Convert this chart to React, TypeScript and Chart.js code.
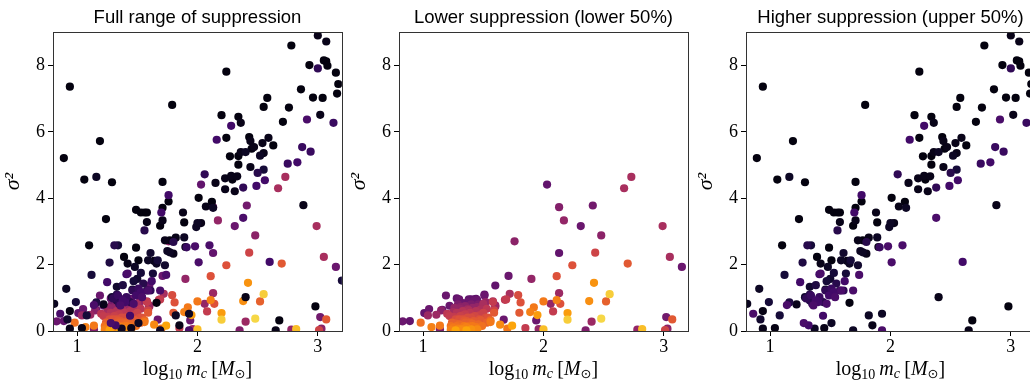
import React, { useEffect, useRef } from 'react';
import { Chart, registerables } from 'chart.js';

Chart.register(...registerables);

// Panel titles
const panelTitles = [
  'Full range of suppression',
  'Lower suppression (lower 50%)',
  'Higher suppression (upper 50%)',
];

// Axis ticks
const xTicks = [1, 2, 3];
const yTicks = [0, 2, 4, 6, 8];
const xRange = [0.8, 3.2];
const yRange = [0, 9];
const yAxisLabel = 'σ²';

// x-axis label pieces: log10 m_c [M_sun]
const xAxisLabelParts = [
  { t: 'log', style: 'normal', size: 20, dy: 0, fam: 'Liberation Serif' },
  { t: '10', style: 'normal', size: 14, dy: 4, fam: 'Liberation Serif' },
  { t: ' ', style: 'normal', size: 16, dy: 0, fam: 'Liberation Serif' },
  { t: 'm', style: 'italic', size: 20, dy: 0, fam: 'Liberation Serif' },
  { t: 'c', style: 'italic', size: 14, dy: 3, fam: 'Liberation Serif' },
  { t: ' ', style: 'normal', size: 17, dy: 0, fam: 'Liberation Serif' },
  { t: '[', style: 'normal', size: 20, dy: 0, fam: 'Liberation Serif' },
  { t: 'M', style: 'italic', size: 20, dy: 0, fam: 'Liberation Serif' },
  { t: '⊙', style: 'normal', size: 13, dy: 3, fam: 'DejaVu Sans' },
  { t: ']', style: 'normal', size: 20, dy: 0, fam: 'Liberation Serif' },
];

// Higher suppression set: [log10 m_c, sigma^2, colour value]
const upperSet: number[][] = [
  [0.81, 0.82, 0.05], [0.86, 0.52, 0.22], [0.91, 1.27, 0.06], [0.92, 0.35, 0.08],
  [0.94, 0.07, 0.04], [0.94, 0.60, 0.03], [0.99, 0.87, 0.10], [0.89, 5.21, 0.02],
  [0.94, 7.36, 0.02], [1.04, 0.09, 0.03], [1.06, 4.56, 0.02], [1.08, 0.47, 0.10],
  [1.10, 2.58, 0.02], [1.12, 1.69, 0.10], [1.14, 0.78, 0.22], [1.16, 0.86, 0.12],
  [1.16, 4.64, 0.06], [1.19, 5.72, 0.02], [1.22, 0.80, 0.04], [1.24, 3.37, 0.02],
  [1.25, 1.47, 0.20], [1.27, 2.06, 0.12], [1.29, 4.48, 0.02], [1.28, 0.24, 0.22],
  [1.29, 1.02, 0.08], [1.31, 2.58, 0.14], [1.34, 2.58, 0.10], [1.32, 0.17, 0.20],
  [1.33, 1.33, 0.08], [1.33, 0.92, 0.12], [1.36, 0.77, 0.22], [1.37, 0.07, 0.06],
  [1.39, 2.23, 0.02], [1.40, 0.87, 0.20], [1.41, 1.71, 0.20], [1.42, 2.03, 0.04],
  [1.44, 0.46, 0.20], [1.45, 0.09, 0.04], [1.46, 1.25, 0.08], [1.47, 0.82, 0.22],
  [1.48, 1.93, 0.06], [1.49, 3.65, 0.02], [1.49, 2.51, 0.02], [1.50, 1.57, 0.08],
  [1.51, 0.24, 0.06], [1.51, 2.13, 0.02], [1.53, 1.75, 0.10], [1.53, 3.57, 0.02],
  [1.54, 1.02, 0.22], [1.56, 3.57, 0.02], [1.56, 3.03, 0.14], [1.58, 3.57, 0.02],
  [1.58, 3.28, 0.04], [1.59, 2.13, 0.06], [1.59, 1.22, 0.22], [1.61, 2.35, 0.08],
  [1.62, 1.50, 0.20], [1.63, 1.73, 0.10], [1.64, 2.11, 0.04], [1.66, 2.03, 0.06],
  [1.66, 0.85, 0.02], [1.67, 2.13, 0.10], [1.69, 0.02, 0.06], [1.69, 3.17, 0.02],
  [1.69, 1.22, 0.22], [1.70, 3.57, 0.20], [1.71, 3.33, 0.04], [1.71, 4.49, 0.02],
  [1.71, 3.71, 0.02], [1.73, 2.73, 0.04], [1.73, 1.98, 0.08], [1.74, 1.69, 0.22],
  [1.75, 2.41, 0.06], [1.76, 3.90, 0.02], [1.76, 4.09, 0.20], [1.77, 2.73, 0.02],
  [1.77, 2.37, 0.06], [1.79, 6.81, 0.02], [1.80, 2.33, 0.04], [1.80, 2.68, 0.14],
  [1.82, 0.47, 0.06], [1.82, 2.81, 0.04], [1.85, 0.17, 0.04], [1.88, 3.57, 0.04],
  [1.89, 2.82, 0.06], [1.89, 3.27, 0.02], [1.90, 2.53, 0.04], [1.91, 2.52, 0.18],
  [1.93, 0.52, 0.06], [1.93, 0.02, 0.22], [1.98, 2.55, 0.22], [1.99, 3.13, 0.06],
  [2.01, 2.07, 0.22], [2.01, 4.01, 0.02], [2.00, 3.25, 0.06], [2.03, 3.25, 0.04],
  [2.06, 4.72, 0.16], [2.07, 3.75, 0.04], [2.10, 2.58, 0.22], [2.12, 3.89, 0.02],
  [2.13, 3.71, 0.06], [2.15, 4.46, 0.04], [2.16, 5.76, 0.20], [2.20, 6.50, 0.02],
  [2.23, 4.60, 0.04], [2.23, 4.27, 0.04], [2.24, 7.81, 0.02], [2.24, 5.82, 0.02],
  [2.27, 5.26, 0.02], [2.28, 6.18, 0.20], [2.28, 4.67, 0.04], [2.29, 4.56, 0.02],
  [2.31, 4.21, 0.04], [2.33, 4.66, 0.04], [2.34, 5.01, 0.02], [2.34, 5.27, 0.02],
  [2.34, 6.45, 0.02], [2.36, 6.27, 0.04], [2.36, 5.39, 0.04], [2.38, 4.32, 0.16],
  [2.38, 3.41, 0.22], [2.40, 1.02, 0.04], [2.40, 5.39, 0.06], [2.43, 5.84, 0.02],
  [2.44, 4.94, 0.04], [2.44, 5.72, 0.04], [2.45, 5.49, 0.02], [2.47, 5.54, 0.04],
  [2.49, 4.37, 0.20], [2.50, 4.76, 0.14], [2.52, 5.28, 0.06], [2.54, 5.66, 0.04],
  [2.55, 4.86, 0.10], [2.55, 6.75, 0.02], [2.56, 4.54, 0.20], [2.55, 5.36, 0.04],
  [2.58, 7.02, 0.02], [2.59, 5.82, 0.04], [2.60, 2.08, 0.20], [2.63, 5.59, 0.02],
  [2.65, 0.02, 0.04], [2.68, 0.32, 0.02], [2.71, 6.30, 0.02], [2.75, 5.04, 0.18],
  [2.76, 6.73, 0.02], [2.78, 8.60, 0.02], [2.83, 5.08, 0.20], [2.86, 7.28, 0.02],
  [2.87, 5.54, 0.18], [2.88, 3.79, 0.04], [2.91, 6.37, 0.22], [2.93, 8.01, 0.02],
  [2.94, 5.40, 0.18], [2.96, 7.03, 0.02], [2.98, 0.74, 0.02], [3.00, 8.90, 0.04],
  [3.00, 7.91, 0.16], [3.02, 6.51, 0.04], [3.04, 7.02, 0.02], [3.05, 8.15, 0.02],
  [3.07, 8.12, 0.02], [3.07, 8.72, 0.04], [3.08, 7.99, 0.02], [3.13, 6.27, 0.18],
  [3.15, 7.78, 0.02], [3.17, 7.44, 0.02], [3.16, 7.15, 0.02], [3.20, 1.52, 0.10],
  [1.30, 0.98, 0.16], [1.34, 1.07, 0.18], [1.38, 0.92, 0.20], [1.35, 0.82, 0.16],
  [1.41, 1.02, 0.18], [1.44, 0.87, 0.14], [1.46, 1.22, 0.16], [1.51, 1.28, 0.18],
  [1.53, 1.17, 0.20], [1.58, 1.22, 0.12], [1.61, 1.22, 0.16], [1.49, 1.07, 0.20],
  [1.55, 1.43, 0.14], [1.47, 1.50, 0.10], [1.38, 1.38, 0.12], [1.42, 1.73, 0.22],
  [1.33, 1.10, 0.14],
];

// Lower suppression set: [log10 m_c, sigma^2, colour value]
const lowerSet: number[][] = [
  [0.83, 0.29, 0.30], [0.89, 0.30, 0.28], [0.98, 0.25, 0.68], [1.01, 0.54, 0.28],
  [1.05, 0.66, 0.30], [1.04, 0.47, 0.42], [1.07, 0.12, 0.72], [1.11, 0.49, 0.42],
  [1.14, 0.16, 0.70], [1.15, 0.62, 0.38], [1.16, 0.64, 0.30], [1.14, 0.05, 0.35],
  [1.19, 1.07, 0.30], [1.22, 0.76, 0.30], [1.20, 0.52, 0.50], [1.23, 0.04, 0.72],
  [1.28, 0.98, 0.28], [1.30, 0.95, 0.30], [1.40, 0.95, 0.28], [1.44, 0.97, 0.27],
  [1.50, 0.82, 0.45], [1.51, 1.10, 0.28], [1.58, 0.87, 0.52], [1.60, 0.74, 0.42],
  [1.60, 1.37, 0.28], [1.59, 0.55, 0.62], [1.56, 0.27, 0.70], [1.64, 0.19, 0.74],
  [1.68, 0.94, 0.50], [1.67, 0.34, 0.30], [1.70, 0.07, 0.70], [1.71, 1.66, 0.30],
  [1.72, 1.12, 0.45], [1.74, 0.16, 0.80], [1.76, 2.70, 0.38], [1.79, 1.08, 0.58],
  [1.81, 0.86, 0.60], [1.80, 0.55, 0.62], [1.85, 0.09, 0.52], [1.89, 0.57, 0.72],
  [1.90, 1.57, 0.40], [1.92, 0.71, 0.70], [1.94, 0.32, 0.30], [1.95, 0.48, 0.78],
  [1.96, 0.06, 0.40], [2.00, 0.89, 0.70], [2.00, 0.05, 0.85], [2.03, 4.41, 0.28],
  [2.06, 0.82, 0.40], [2.08, 0.59, 0.52], [2.11, 1.65, 0.60], [2.11, 0.93, 0.72],
  [2.13, 3.73, 0.36], [2.13, 2.35, 0.28], [2.13, 1.14, 0.42], [2.14, 0.82, 0.60],
  [2.17, 3.33, 0.40], [2.20, 0.54, 0.78], [2.20, 0.34, 0.88], [2.24, 1.98, 0.60],
  [2.31, 3.16, 0.30], [2.35, 0.02, 0.35], [2.38, 0.90, 0.75], [2.40, 0.28, 0.42],
  [2.41, 3.78, 0.32], [2.42, 1.45, 0.76], [2.43, 2.36, 0.55], [2.48, 0.37, 0.90],
  [2.48, 2.88, 0.38], [2.52, 0.89, 0.64], [2.55, 1.11, 0.88], [2.67, 4.30, 0.45],
  [2.70, 2.03, 0.62], [2.73, 4.64, 0.45], [2.78, 0.04, 0.40], [2.82, 0.06, 0.85],
  [2.99, 3.16, 0.45], [3.02, 0.42, 0.32], [3.03, 0.07, 0.38], [3.05, 2.23, 0.45],
  [3.07, 0.35, 0.62], [3.15, 1.93, 0.30], [3.01, 0.03, 0.55],
  [1.26, 0.42, 0.52], [1.25, 0.57, 0.44], [1.27, 0.22, 0.64], [1.29, 0.07, 0.72],
  [1.31, 0.67, 0.40], [1.33, 0.47, 0.52], [1.34, 0.30, 0.62], [1.36, 0.12, 0.72],
  [1.37, 0.87, 0.30], [1.38, 0.62, 0.46], [1.40, 0.40, 0.58], [1.41, 0.22, 0.66],
  [1.43, 0.95, 0.28], [1.45, 0.93, 0.30], [1.45, 0.72, 0.40], [1.47, 0.47, 0.54],
  [1.48, 0.32, 0.62], [1.51, 1.07, 0.30], [1.52, 0.87, 0.40], [1.53, 0.67, 0.50],
  [1.54, 0.40, 0.60], [1.56, 0.32, 0.66], [1.58, 0.89, 0.46], [1.60, 0.77, 0.42],
  [1.59, 0.62, 0.55], [1.69, 0.95, 0.52],
  [1.25, 0.10, 0.70], [1.28, 0.15, 0.68], [1.30, 0.20, 0.66], [1.32, 0.05, 0.74],
  [1.35, 0.25, 0.64], [1.38, 0.15, 0.68], [1.40, 0.05, 0.76], [1.42, 0.30, 0.62],
  [1.44, 0.12, 0.70], [1.46, 0.20, 0.66], [1.30, 0.35, 0.60], [1.33, 0.60, 0.48],
  [1.35, 0.50, 0.52], [1.37, 0.40, 0.58], [1.39, 0.55, 0.50], [1.41, 0.70, 0.40],
  [1.43, 0.45, 0.56], [1.28, 0.55, 0.48], [1.26, 0.70, 0.40], [1.29, 0.80, 0.34],
  [1.32, 0.85, 0.30], [1.35, 0.75, 0.38], [1.38, 0.95, 0.28], [1.40, 0.80, 0.34],
  [1.42, 0.90, 0.30], [1.36, 0.30, 0.62], [1.31, 0.45, 0.54], [1.27, 0.35, 0.58],
  [1.24, 0.25, 0.64], [1.49, 0.15, 0.68], [1.50, 0.55, 0.54], [1.34, 0.15, 0.70],
  [1.44, 0.60, 0.48], [1.22, 0.45, 0.52], [1.23, 0.15, 0.68], [1.47, 0.35, 0.60],
  [1.45, 0.05, 0.74], [1.33, 0.35, 0.60], [1.37, 0.65, 0.44], [1.31, 0.72, 0.38],
  [1.39, 0.25, 0.64], [1.41, 0.15, 0.70], [1.46, 0.80, 0.34], [1.48, 0.65, 0.46],
  [1.52, 0.40, 0.58], [1.53, 0.25, 0.64], [1.27, 0.02, 0.80], [1.36, 0.02, 0.80],
];

// Inferno colormap anchors
const infernoStops = [
  '#000004', '#160b39', '#420a68', '#6a176e', '#932667', '#bc3754',
  '#dd513a', '#f37819', '#fca50a', '#f6d746', '#fcffa4',
];

function hexToRgb(h: string) {
  return [parseInt(h.slice(1, 3), 16), parseInt(h.slice(3, 5), 16), parseInt(h.slice(5, 7), 16)];
}

function inferno(t: number) {
  const v = Math.max(0, Math.min(1, t)) * (infernoStops.length - 1);
  const i = Math.min(Math.floor(v), infernoStops.length - 2);
  const f = v - i;
  const a = hexToRgb(infernoStops[i]);
  const b = hexToRgb(infernoStops[i + 1]);
  const c = a.map((av, k) => Math.round(av + (b[k] - av) * f));
  return `rgb(${c[0]},${c[1]},${c[2]})`;
}

const framePlugin = {
  id: 'frame',
  afterDatasetsDraw(chart: any) {
    const { ctx, chartArea: a } = chart;
    ctx.save();
    ctx.strokeStyle = '#333';
    ctx.lineWidth = 1;
    ctx.strokeRect(Math.round(a.left) + 0.5, Math.round(a.top) + 0.5, Math.round(a.right - a.left), Math.round(a.bottom - a.top));
    ctx.restore();
  },
};

const xLabelPlugin = {
  id: 'xlabel',
  afterDraw(chart: any) {
    const { ctx, chartArea: a } = chart;
    ctx.save();
    ctx.fillStyle = '#000';
    ctx.textBaseline = 'alphabetic';
    ctx.textAlign = 'left';
    const widths = xAxisLabelParts.map((p) => {
      ctx.font = `${p.style} ${p.size}px "${p.fam}"`;
      return ctx.measureText(p.t).width;
    });
    const total = widths.reduce((s, w) => s + w, 0);
    let x = (a.left + a.right) / 2 - total / 2;
    const base = 375;
    xAxisLabelParts.forEach((p, i) => {
      ctx.font = `${p.style} ${p.size}px "${p.fam}"`;
      ctx.fillText(p.t, x, base + p.dy);
      x += widths[i];
    });
    ctx.restore();
  },
};

function buildDataset(set: number[][]) {
  const sorted = [...set].sort((p, q) => p[2] - q[2]);
  return {
    data: sorted.map((p) => ({ x: p[0], y: p[1] })),
    backgroundColor: sorted.map((p) => inferno(p[2])),
    borderWidth: 0,
    pointRadius: 4.1,
    pointHoverRadius: 4.1,
    clip: 0,
  };
}

function makeConfig(title: string, sets: number[][][]): any {
  return {
    type: 'scatter',
    data: { datasets: sets.map(buildDataset) },
    options: {
      animation: false,
      responsive: false,
      events: [],
      layout: { padding: { left: 0, right: 3, top: 0, bottom: 0 } },
      plugins: {
        legend: { display: false },
        tooltip: { enabled: false },
        title: {
          display: true,
          text: title,
          fullSize: false,
          color: '#000',
          font: { family: 'Liberation Sans', size: 18.5, weight: 'normal', lineHeight: 1.2 },
          padding: { top: 7, bottom: 3 },
        },
      },
      scales: {
        x: {
          type: 'linear',
          min: xRange[0],
          max: xRange[1],
          afterBuildTicks: (s: any) => {
            s.ticks = xTicks.map((v) => ({ value: v }));
          },
          afterFit: (s: any) => {
            s.height = 53;
          },
          grid: { drawOnChartArea: false, drawTicks: true, tickLength: 5, tickColor: '#000', tickWidth: 1 },
          border: { color: '#333', width: 1 },
          ticks: { color: '#000', padding: 0, font: { family: 'Liberation Serif', size: 18 }, maxRotation: 0 },
        },
        y: {
          type: 'linear',
          min: yRange[0],
          max: yRange[1],
          afterBuildTicks: (s: any) => {
            s.ticks = yTicks.map((v) => ({ value: v }));
          },
          afterFit: (s: any) => {
            s.width = 53;
          },
          grid: { drawOnChartArea: false, drawTicks: true, tickLength: 5, tickColor: '#000', tickWidth: 1 },
          border: { color: '#333', width: 1 },
          ticks: { color: '#000', padding: 3, font: { family: 'Liberation Serif', size: 18 } },
          title: {
            display: true,
            text: yAxisLabel,
            color: '#000',
            font: { family: 'Liberation Serif', size: 22, style: 'italic', lineHeight: 1.2 },
            padding: { top: 0, bottom: 0 },
          },
        },
      },
    },
    plugins: [framePlugin, xLabelPlugin],
  };
}

function Panel({ left, title, sets }: { left: number; title: string; sets: number[][][] }) {
  const ref = useRef<HTMLCanvasElement | null>(null);
  useEffect(() => {
    if (!ref.current) return;
    const chart = new Chart(ref.current, makeConfig(title, sets));
    return () => chart.destroy();
  }, [title, sets]);
  return (
    <div style={{ position: 'absolute', left, top: 0, width: 346, height: 384 }}>
      <canvas ref={ref} width={346} height={384} style={{ width: 346, height: 384, display: 'block' }} />
    </div>
  );
}

const fullSets = [upperSet, lowerSet];
const lowerSets = [lowerSet];
const upperSets = [upperSet];

export default function App() {
  return (
    <div
      style={{
        position: 'absolute',
        left: 0,
        top: 0,
        width: 1030,
        height: 384,
        overflow: 'hidden',
        background: '#fff',
      }}
    >
      <Panel left={0} title={panelTitles[0]} sets={fullSets} />
      <Panel left={346} title={panelTitles[1]} sets={lowerSets} />
      <Panel left={693} title={panelTitles[2]} sets={upperSets} />
    </div>
  );
}
